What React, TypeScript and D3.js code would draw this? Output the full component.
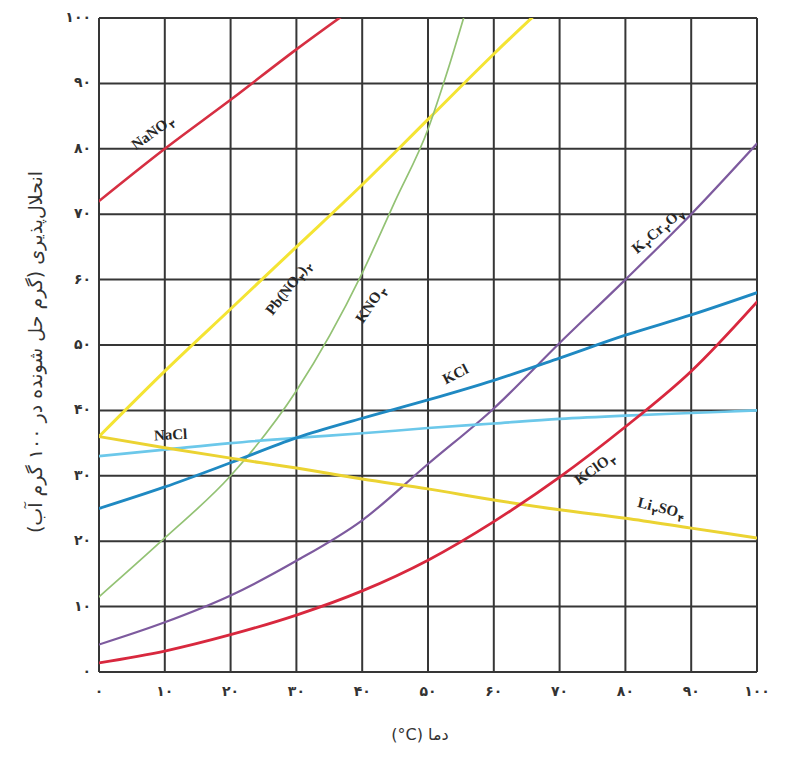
import React from "react";
import * as d3 from "d3";

// ---- data (temperature °C -> solubility g / 100 g water) ----
const TEMPS = [0, 10, 20, 30, 40, 50, 60, 70, 80, 90, 100];
const nano3T = [0, 10, 20, 30, 40];
const nano3 = [72, 80, 87.5, 95.2, 102.5];
const pbno32T = [0, 10, 20, 30, 40, 50, 60, 70];
const pbno32 = [36, 46, 55.5, 65, 74.5, 84.5, 94.5, 104];
const kno3T = [0, 10, 20, 30, 40, 45, 50, 53, 56];
const kno3 = [11.5, 20.5, 30, 43, 61, 72, 83, 92, 102];
const k2cr2o7 = [4.2, 7.6, 11.7, 17, 23.2, 31.8, 40.3, 50.3, 60, 70, 80.8];
const kcl = [25, 28.3, 32, 35.8, 38.8, 41.6, 44.6, 48, 51.5, 54.6, 58];
const nacl = [33, 34, 35, 35.8, 36.5, 37.3, 38, 38.7, 39.2, 39.6, 40];
const li2so4 = [36, 34.3, 32.7, 31.2, 29.5, 28, 26.3, 24.8, 23.5, 22, 20.5];
const kclo3 = [1.4, 3.2, 5.7, 8.7, 12.4, 17.1, 23, 29.8, 37.5, 46, 56.6];

const X_TICKS = [0, 10, 20, 30, 40, 50, 60, 70, 80, 90, 100];
const Y_TICKS = [0, 10, 20, 30, 40, 50, 60, 70, 80, 90, 100];

const X_TITLE = "دما (\u200E°C)";
const Y_TITLE = "انحلال‌پذیری (گرم حل شونده در ۱۰۰ گرم آب)";

const fa = (n: number) =>
  String(n).replace(/\d/g, (d) => "۰۱۲۳۴۵۶۷۸۹"[+d]);

type Series = { name: string; t: number[]; v: number[]; color: string; w: number };
const SERIES: Series[] = [
  { name: "NaNO3", t: nano3T, v: nano3, color: "#d62f42", w: 2.6 },
  { name: "Pb(NO3)2", t: pbno32T, v: pbno32, color: "#f4e433", w: 3 },
  { name: "KNO3", t: kno3T, v: kno3, color: "#93c274", w: 1.7 },
  { name: "K2Cr2O7", t: TEMPS, v: k2cr2o7, color: "#7d5a9e", w: 2.2 },
  { name: "NaCl", t: TEMPS, v: nacl, color: "#6cc8ea", w: 2.6 },
  { name: "KCl", t: TEMPS, v: kcl, color: "#1f89c2", w: 2.8 },
  { name: "Li2SO4", t: TEMPS, v: li2so4, color: "#ebd332", w: 3 },
  { name: "KClO3", t: TEMPS, v: kclo3, color: "#d8283e", w: 2.8 },
];

// label: parts [text, isSub]
type Label = { parts: [string, boolean][]; t: number; s: number; a: number };
const LABELS: Label[] = [
  { parts: [["NaNO", false], ["۳", true]], t: 8.3, s: 82.3, a: -36 },
  { parts: [["Pb(NO", false], ["۳", true], [")", false], ["۲", true]], t: 29, s: 58.6, a: -52 },
  { parts: [["KNO", false], ["۳", true]], t: 41.5, s: 56.1, a: -56 },
  { parts: [["K", false], ["۲", true], ["Cr", false], ["۲", true], ["O", false], ["۷", true]], t: 85.1, s: 67.3, a: -40 },
  { parts: [["KCl", false]], t: 54.3, s: 45.3, a: -27 },
  { parts: [["NaCl", false]], t: 10.9, s: 36, a: -3 },
  { parts: [["KClO", false], ["۳", true]], t: 75.5, s: 30.9, a: -35 },
  { parts: [["Li", false], ["۲", true], ["SO", false], ["۴", true]], t: 85.4, s: 24.8, a: 14 },
];

export default function App() {
  const W = 799, H = 766;
  const left = 99, right = 757, top = 18, bottom = 672;
  const x = d3.scaleLinear().domain([0, 100]).range([left, right]);
  const y = d3.scaleLinear().domain([0, 100]).range([bottom, top]);

  const line = (s: Series) =>
    d3
      .line<number>()
      .x((_, i) => x(s.t[i]))
      .y((d) => y(d))
      .curve(d3.curveMonotoneX)(s.v) || "";

  const grid = "#363636";
  return (
    <svg width={W} height={H} style={{ position: "absolute", left: 0, top: 0, background: "#fff" }}>
      <defs>
        <clipPath id="plot">
          <rect x={left} y={top} width={right - left} height={bottom - top} />
        </clipPath>
      </defs>
      {/* grid */}
      {X_TICKS.map((t) => (
        <line key={"gx" + t} x1={x(t)} x2={x(t)} y1={top} y2={bottom} stroke={grid} strokeWidth={2} />
      ))}
      {Y_TICKS.map((t) => (
        <line key={"gy" + t} x1={left} x2={right} y1={y(t)} y2={y(t)} stroke={grid} strokeWidth={2} />
      ))}
      {/* curves */}
      <g clipPath="url(#plot)">
        {SERIES.map((s) => (
          <path key={s.name} d={line(s)} fill="none" stroke={s.color} strokeWidth={s.w} strokeLinecap="round" />
        ))}
      </g>
      {/* labels */}
      {LABELS.map((l, i) => (
        <text
          key={i}
          transform={`translate(${x(l.t)},${y(l.s)}) rotate(${l.a})`}
          textAnchor="middle"
          dominantBaseline="middle"
          fontFamily="Liberation Serif, serif"
          fontWeight="bold"
          fontSize={15}
          fill="#262626"
        >
          {l.parts.map(([txt, sub], j) => (
            <tspan
              key={j}
              fontFamily={sub ? "DejaVu Sans" : undefined}
              fontSize={sub ? 10 : 15}
              dy={sub ? 4 : j > 0 && l.parts[j - 1][1] ? -4 : 0}
              dx={sub ? 1 : 0}
            >
              {txt}
            </tspan>
          ))}
        </text>
      ))}
      {/* tick labels */}
      {X_TICKS.map((t) => (
        <text key={"tx" + t} x={x(t)} y={692} textAnchor="middle" dominantBaseline="middle"
          fontFamily="DejaVu Sans" fontWeight="bold" fontSize={14} fill="#333">
          {fa(t)}
        </text>
      ))}
      {Y_TICKS.map((t) => (
        <text key={"ty" + t} x={91} y={y(t)} textAnchor="end" dominantBaseline="middle"
          fontFamily="DejaVu Sans" fontWeight="bold" fontSize={14} fill="#333">
          {fa(t)}
        </text>
      ))}
      {/* axis titles */}
      <text x={420} y={735} textAnchor="middle" dominantBaseline="middle" direction="rtl"
        fontFamily="DejaVu Sans" fontSize={16} fill="#333">
        {X_TITLE}
      </text>
      <text transform={`translate(36,352) rotate(-90)`} textAnchor="middle" direction="rtl"
        dominantBaseline="middle" fontFamily="DejaVu Sans" fontSize={19} fill="#333">
        {Y_TITLE}
      </text>
    </svg>
  );
}
